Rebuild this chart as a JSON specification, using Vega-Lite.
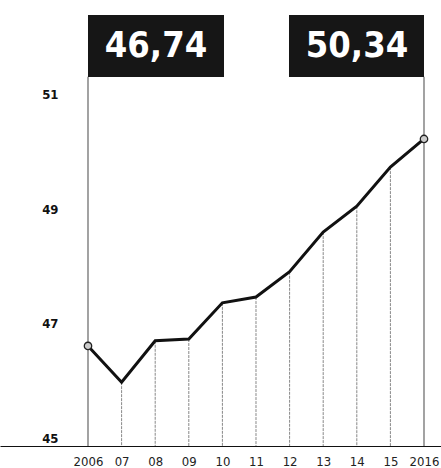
{
  "$schema": "https://vega.github.io/schema/vega-lite/v6.json",
  "width": 441,
  "height": 468,
  "autosize": "none",
  "padding": 0,
  "background": "white",
  "config": {"view": {"stroke": null}},
  "data": {"values": [
    {"year": 2006, "value": 46.74, "label": "46,74", "end": "first"},
    {"year": 2007, "value": 46.11},
    {"year": 2008, "value": 46.83},
    {"year": 2009, "value": 46.86},
    {"year": 2010, "value": 47.49},
    {"year": 2011, "value": 47.59},
    {"year": 2012, "value": 48.03},
    {"year": 2013, "value": 48.72},
    {"year": 2014, "value": 49.17},
    {"year": 2015, "value": 49.85},
    {"year": 2016, "value": 50.34, "label": "50,34", "end": "last"}
  ]},
  "encoding": {
    "x": {
      "field": "year", "type": "quantitative",
      "scale": {"domain": [2003.381, 2016.506], "nice": false, "zero": false},
      "axis": {
        "title": null, "offset": -22, "values": [2006,2007,2008,2009,2010,2011,2012,2013,2014,2015,2016],
        "labelExpr": "datum.value==2006||datum.value==2016 ? ''+datum.value : slice(''+datum.value, 2)",
        "ticks": false, "grid": false, "domain": true, "domainColor": "#111", "domainWidth": 1.2,
        "labelPadding": 9, "labelFontSize": 13, "labelFont": "DejaVu Sans Condensed", "labelColor": "#222",
        "labelOverlap": false, "labelBound": false, "labelFlush": false
      }
    },
    "y": {
      "field": "value", "type": "quantitative",
      "scale": {"domain": [44.617, 52.757], "nice": false, "zero": false},
      "axis": {
        "title": null, "offset": -62, "values": [45, 47, 49, 51], "format": "d",
        "ticks": false, "grid": false, "domain": false,
        "labelPadding": 4, "labelFontSize": 13, "labelFont": "DejaVu Sans Condensed", "labelFontWeight": "bold",
        "labelColor": "#111", "labelBaseline": "bottom", "labelAlign": "right"
      }
    }
  },
  "layer": [
    {
      "transform": [{"filter": "datum.year != 2006 && datum.year != 2016"}],
      "mark": {"type": "rule", "stroke": "#888", "strokeWidth": 1, "strokeDash": [3, 1]},
      "encoding": {"y2": {"datum": 45}}
    },
    {
      "transform": [{"filter": "datum.year == 2006 || datum.year == 2016"}],
      "mark": {"type": "rule", "stroke": "#666", "strokeWidth": 1.2},
      "encoding": {"y": {"datum": 45}, "y2": {"datum": 51.42}}
    },
    {
      "mark": {"type": "line", "stroke": "#111", "strokeWidth": 3}
    },
    {
      "transform": [{"filter": "datum.year == 2006 || datum.year == 2016"}],
      "mark": {"type": "point", "shape": "circle", "filled": true, "fill": "#ccc", "stroke": "#222", "strokeWidth": 1.3, "size": 55, "opacity": 1}
    },
    {
      "transform": [{"filter": "datum.end == 'first'"}],
      "mark": {"type": "rect", "fill": "#161616", "x2Offset": 136},
      "encoding": {"x2": {"field": "year"}, "y": {"datum": 52.496}, "y2": {"datum": 51.417}}
    },
    {
      "transform": [{"filter": "datum.end == 'last'"}],
      "mark": {"type": "rect", "fill": "#161616", "xOffset": -135},
      "encoding": {"x2": {"field": "year"}, "y": {"datum": 52.496}, "y2": {"datum": 51.417}}
    },
    {
      "transform": [{"filter": "datum.end == 'first'"}],
      "mark": {"type": "text", "color": "white", "font": "DejaVu Sans Condensed", "fontWeight": "bold", "fontSize": 36, "dx": 68, "align": "center", "baseline": "middle"},
      "encoding": {"y": {"datum": 51.96}, "text": {"field": "label"}}
    },
    {
      "transform": [{"filter": "datum.end == 'last'"}],
      "mark": {"type": "text", "color": "white", "font": "DejaVu Sans Condensed", "fontWeight": "bold", "fontSize": 36, "dx": -67, "align": "center", "baseline": "middle"},
      "encoding": {"y": {"datum": 51.96}, "text": {"field": "label"}}
    }
  ]
}
